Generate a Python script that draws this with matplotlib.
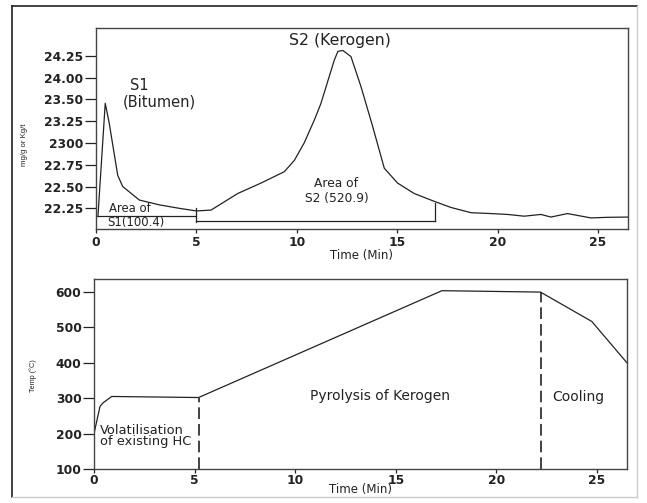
import matplotlib
matplotlib.use("Agg")
import matplotlib.pyplot as plt
from matplotlib.lines import Line2D

plt.rcParams['font.family'] = ['DejaVu Sans']

# ---- data: top panel (pyrogram) ----
s_time = [0.10, 0.46, 0.66, 1.08, 1.33, 2.16, 3.15, 4.15, 5.00, 5.73, 7.06, 8.22,
          9.38, 9.88, 10.37, 10.87, 11.20, 11.87, 12.05, 12.30, 12.70, 13.20, 13.78,
          14.36, 15.02, 15.85, 16.85, 17.68, 18.68, 19.67, 20.50, 21.33, 22.16,
          22.66, 23.49, 24.65, 25.48, 26.50]
s_signal = [22.17, 23.455, 23.225, 22.63, 22.50, 22.345, 22.29, 22.25, 22.22, 22.23,
            22.42, 22.54, 22.67, 22.80, 23.00, 23.26, 23.45, 23.95, 24.05, 24.06,
            23.99, 23.645, 23.19, 22.71, 22.54, 22.42, 22.33, 22.26, 22.20, 22.19,
            22.18, 22.16, 22.18, 22.15, 22.19, 22.14, 22.147, 22.15]
top_ytick_pos = [22.25, 22.50, 22.75, 23.00, 23.25, 23.50, 23.75, 24.00]
top_ytick_labels = ["22.25", "22.50", "22.75", "2300", "23.25", "23.50", "24.00", "24.25"]
area_bounds = [0.0, 5.0, 16.9]
area_levels = [22.162, 22.104]

# ---- data: bottom panel (temperature program) ----
temp_time = [0.0, 0.30, 0.45, 0.88, 5.2, 17.3, 22.2, 24.75, 26.5]
temp_c = [200, 277, 287, 305, 302, 604, 600, 517, 400]
phase_bounds = [5.2, 22.2]
bot_yticks = [100, 200, 300, 400, 500, 600]
xticks = [0, 5, 10, 15, 20, 25]

W, H = 647, 503
fig = plt.figure(figsize=(W / 100, H / 100), dpi=100)

def fr(l, t, r, b):
    return [l / W, 1 - b / H, (r - l) / W, (b - t) / H]

line_col = '#222222'
spine_col = '#444444'
txt_col = '#222222'

# ---------- top axes ----------
ax1 = fig.add_axes(fr(96, 28, 628, 229))
ax1.plot(s_time, s_signal, color=line_col, lw=0.9)
ax1.set_xlim(0, 26.5)
ax1.set_ylim(22.013, 24.318)
ax1.set_yticks(top_ytick_pos)
ax1.set_yticklabels(top_ytick_labels)
ax1.set_xticks(xticks)
# area boxes
ax1.plot([area_bounds[0], area_bounds[1]], [area_levels[0], area_levels[0]], color=line_col, lw=0.9)
ax1.plot([area_bounds[1], area_bounds[1]], [area_levels[1] - 0.01, 22.25], color=line_col, lw=0.9)
ax1.plot([area_bounds[1], area_bounds[2]], [area_levels[1], area_levels[1]], color=line_col, lw=0.9)
ax1.plot([area_bounds[2], area_bounds[2]], [area_levels[1], 22.31], color=line_col, lw=0.9)

ax1.text(2.14, 23.66, "S1", ha='center', va='center', fontsize=10.5, color=txt_col)
ax1.text(3.14, 23.465, "(Bitumen)", ha='center', va='center', fontsize=10.5, color=txt_col)
ax1.text(12.15, 24.17, "S2 (Kerogen)", ha='center', va='center', fontsize=11.3, color=txt_col)
ax1.text(0.65, 22.245, "Area of", ha='left', va='center', fontsize=8.4, color=txt_col)
ax1.text(0.55, 22.085, "S1(100.4)", ha='left', va='center', fontsize=8.4, color=txt_col)
ax1.text(11.95, 22.53, "Area of", ha='center', va='center', fontsize=8.8, color=txt_col)
ax1.text(12.0, 22.36, "S2 (520.9)", ha='center', va='center', fontsize=8.8, color=txt_col)
ax1.set_xlabel("Time (Min)", fontsize=8.5, labelpad=0, color=txt_col)
ax1.set_ylabel("mg/g or Kg/t", fontsize=5.6, labelpad=2, color=txt_col,
               family=['Liberation Sans Narrow', 'Liberation Sans'])
ax1.yaxis.set_label_coords(-0.128, 0.42)

# ---------- bottom axes ----------
ax2 = fig.add_axes(fr(94, 279, 627, 469))
ax2.plot(temp_time, temp_c, color=line_col, lw=0.9)
for xb, ytop in zip(phase_bounds, [temp_c[4], temp_c[6]]):
    ax2.plot([xb, xb], [100, ytop], color=line_col, lw=1.2, ls=(0, (7, 3)))
ax2.set_xlim(0, 26.5)
ax2.set_ylim(100, 637)
ax2.set_yticks(bot_yticks)
ax2.set_xticks(xticks)
ax2.text(0.3, 192, "Volatilisation\nof existing HC", ha='left', va='center',
         fontsize=9.4, linespacing=0.8, color=txt_col)
ax2.text(14.2, 306, "Pyrolysis of Kerogen", ha='center', va='center', fontsize=10, color=txt_col)
ax2.text(24.1, 304, "Cooling", ha='center', va='center', fontsize=10, color=txt_col)
ax2.set_ylabel("Temp (\u00b0C)", fontsize=5.2, labelpad=2, color=txt_col,
               family=['Liberation Sans Narrow', 'Liberation Sans'])
ax2.yaxis.set_label_coords(-0.107, 0.49)

for ax in (ax1, ax2):
    for s in ax.spines.values():
        s.set_color(spine_col)
        s.set_linewidth(1.0)
    ax.tick_params(axis='y', direction='out', length=8, width=0.9, pad=1,
                   labelsize=8.8, colors='#222222')
    ax.tick_params(axis='x', direction='out', length=3, width=0.9, pad=2,
                   labelsize=8.8, colors='#222222')
    for lab in ax.get_xticklabels() + ax.get_yticklabels():
        lab.set_fontweight('bold')
ax2.tick_params(axis='x', pad=0.5)
ax2.set_xlabel("Time (Min)", fontsize=8.5, labelpad=-2.5, color=txt_col)

# outer frame
fig.add_artist(Line2D([12 / W, 12 / W], [1 - 6 / H, 1 - 497 / H], transform=fig.transFigure,
                      color='#222222', lw=1.2))
fig.add_artist(Line2D([12 / W, 637 / W], [1 - 6 / H, 1 - 6 / H], transform=fig.transFigure,
                      color='#222222', lw=1.2))
fig.add_artist(Line2D([637 / W, 637 / W], [1 - 6 / H, 1 - 497 / H], transform=fig.transFigure,
                      color='#cccccc', lw=1.0))
fig.add_artist(Line2D([12 / W, 637 / W], [1 - 497 / H, 1 - 497 / H], transform=fig.transFigure,
                      color='#cccccc', lw=1.0))

fig.savefig("out.png", dpi=100)
